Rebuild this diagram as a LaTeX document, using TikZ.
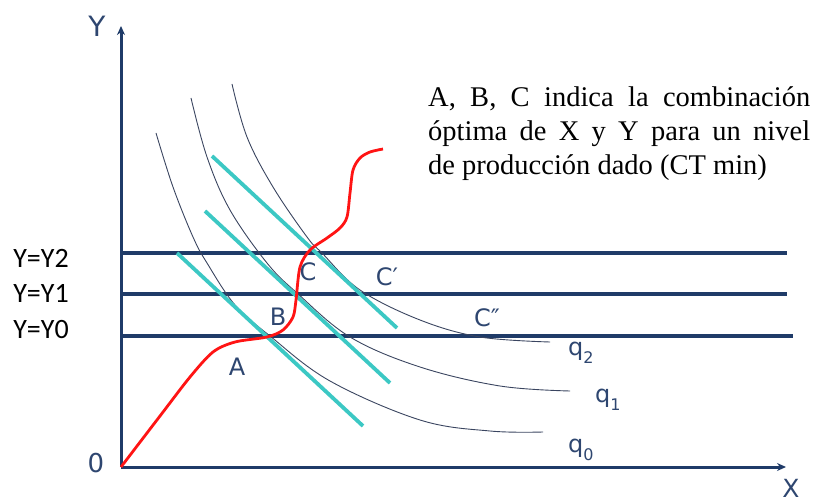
\documentclass[tikz,border=0pt]{standalone}
\usepackage{fontspec}
\setmainfont{Liberation Serif}
\newfontfamily\calibri{Carlito}
\newfontfamily\verdana{DejaVu Sans}
\usetikzlibrary{arrows.meta}
\definecolor{azulOscuro}{HTML}{1F3B68}
\definecolor{azulEtiqueta}{HTML}{2E4670}
\definecolor{turquesa}{HTML}{3CC8C4}
\definecolor{rojo}{HTML}{FF1414}
\definecolor{grisCurva}{HTML}{3A4560}
\newcommand{\qsub}[1]{q\raisebox{-0.32em}{\fontsize{16}{16}\selectfont #1}}

\begin{document}
\begin{tikzpicture}[x=1pt,y=-1pt,
  eje/.style={azulOscuro,line width=3pt},
  nivel/.style={azulOscuro,line width=3.2pt},
  isocuanta/.style={grisCurva,line width=0.9pt},
  tangente/.style={turquesa,line width=3.8pt},
  letra/.style={azulEtiqueta,font=\verdana\fontsize{24}{24}\selectfont,inner sep=0pt},
  nivelTxt/.style={font=\calibri\fontsize{28}{28}\selectfont,inner sep=0pt}]
\useasboundingbox (0,0) rectangle (818,502);
% ejes
\coordinate (O) at (121,467);
\coordinate (Ytop) at (121,26);
\coordinate (Xend) at (786,467);
\draw[eje,-{Stealth[length=9pt,width=8pt]}] (O)--(Ytop);
\draw[eje,-{Stealth[length=9pt,width=8pt]}] (O)--(Xend);
\node[letra,font=\verdana\fontsize{28}{28}\selectfont] (ylab) at (97,26) {Y};
\node[letra,font=\verdana\fontsize{25}{25}\selectfont] (xlab) at (791,488) {X};
\node[letra,font=\verdana\fontsize{26}{26}\selectfont] (cero) at (96,463) {0};
% niveles de Y
\coordinate (y2a) at (121,253); \coordinate (y2b) at (787,253);
\coordinate (y1a) at (121,294); \coordinate (y1b) at (787,294);
\coordinate (y0a) at (121,336); \coordinate (y0b) at (793,336);
\draw[nivel] (y2a)--(y2b);
\draw[nivel] (y1a)--(y1b);
\draw[nivel] (y0a)--(y0b);
\node[nivelTxt] (ny2) at (41,258) {Y=Y2};
\node[nivelTxt] (ny1) at (41,293) {Y=Y1};
\node[nivelTxt] (ny0) at (41,330) {Y=Y0};
% isocuantas
\draw[isocuanta] plot[smooth,tension=0.6] coordinates
  {(156,133) (173,187) (193,237) (207,263) (235,305) (270,336) (330,381) (420,420) (490,431) (543,432)};
\draw[isocuanta] plot[smooth,tension=0.6] coordinates
  {(191,98) (207,157) (230,210) (267,263) (297,293) (350,337) (420,367) (500,386) (570,391)};
\draw[isocuanta] plot[smooth,tension=0.6] coordinates
  {(232,84) (247,137) (273,187) (307,237) (322,253) (360,290) (420,320) (480,337) (550,342)};
% rectas de isocosto
\draw[tangente] (177,253)--(363,426);
\draw[tangente] (205,211)--(390,383);
\draw[tangente] (212,156)--(397,328);
% senda de expansion
\draw[rojo,line width=2.8pt] plot[smooth,tension=0.5] coordinates
  {(121,467) (160,416) (190,377) (213,352) (235,342) (267,337) (283,330) (293,317)
   (296,300) (300,267) (310,250) (327,238) (340,228) (347,217) (350,193) (353,170)
   (360,158) (370,152) (383,149)};
% etiquetas
\node[letra] (A) at (237,367) {A};
\node[letra] (B) at (278,317) {B};
\node[letra] (C) at (308,272) {C};
\node[letra] (Cp) at (387,277) {C′};
\node[letra] (Cpp) at (487,318) {C″};
\node[letra,anchor=west] (q2) at (568,353) {\qsub{2}};
\node[letra,anchor=west] (q1) at (595,400) {\qsub{1}};
\node[letra,anchor=west] (q0) at (568,450) {\qsub{0}};
\node[anchor=north west,text width=382pt,align=justify,inner sep=0pt,
  font=\fontsize{28.5}{34}\selectfont] (nota) at (428,86)
  {A, B, C indica la combinación\linebreak óptima de X y Y para un nivel\linebreak de producción dado (CT min)};
\end{tikzpicture}
\end{document}
